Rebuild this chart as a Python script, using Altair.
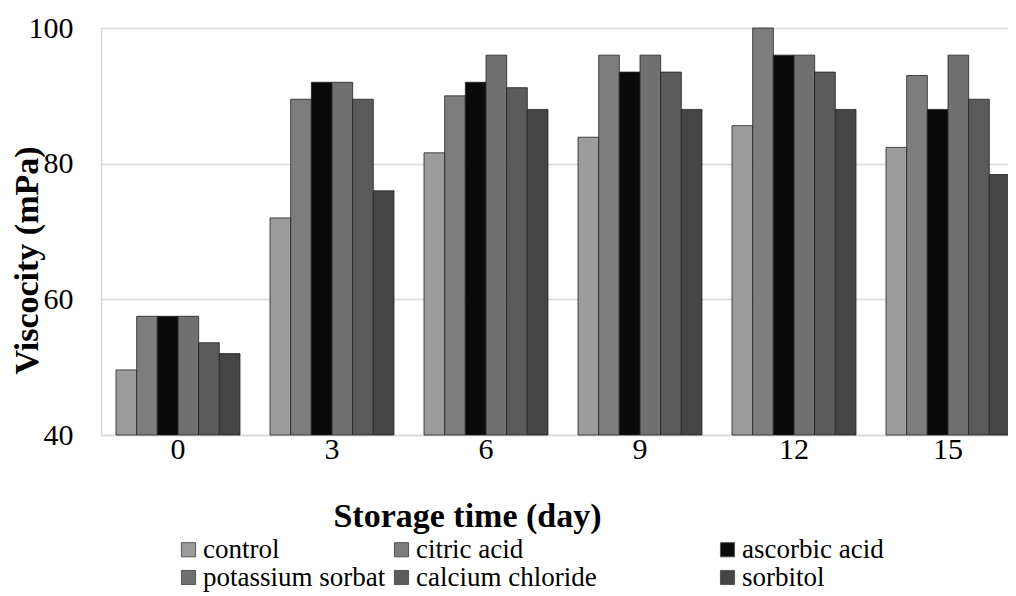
import altair as alt
import pandas as pd

days = ["0", "3", "6", "9", "12", "15"]
series = ["control", "citric acid", "ascorbic acid", "potassium sorbat", "calcium chloride", "sorbitol"]
control = [49.6, 72.0, 81.6, 83.9, 85.6, 82.4]
citric_acid = [57.5, 89.5, 90.0, 96.0, 100.0, 93.0]
ascorbic_acid = [57.5, 92.0, 92.0, 93.5, 96.0, 88.0]
potassium_sorbat = [57.5, 92.0, 96.0, 96.0, 96.0, 96.0]
calcium_chloride = [53.6, 89.5, 91.2, 93.5, 93.5, 89.5]
sorbitol = [52.0, 76.0, 88.0, 88.0, 88.0, 78.4]
y_ticks = [40, 60, 80, 100]

fills = ["#9c9c9c", "#7d7d7d", "#0a0a0a", "#707070", "#5a5a5a", "#454545"]

values = [control, citric_acid, ascorbic_acid, potassium_sorbat, calcium_chloride, sorbitol]
rows = []
for s, vals in zip(series, values):
    for d, v in zip(days, vals):
        rows.append({"day": d, "series": s, "viscosity": v})
df = pd.DataFrame(rows)

FONT = "Times New Roman, Liberation Serif, serif"
TICK = 30
TITLE = 34
LEG = 27
PAD = "\u00a0" * 17 + "\u200b"

bars = alt.Chart(df).mark_bar(stroke="#222222", strokeWidth=0.8).encode(
    x=alt.X(
        "day:N",
        sort=days,
        scale=alt.Scale(range=[0, 924], paddingInner=0.195, paddingOuter=0.0975),
        axis=alt.Axis(
            title="Storage time (day)",
            labelAngle=0,
            ticks=False,
            labelPadding=-1,
            labelFontSize=TICK,
            labelFont=FONT,
            labelColor="#000000",
            domainColor="#d9d9d9",
            domainWidth=1.5,
            titleFont=FONT,
            titleFontSize=TITLE,
            titleFontWeight="bold",
            titleColor="#000000",
            titleX=366,
            titleY=81,
            titleAlign="center",
            titleBaseline="middle",
        ),
    ),
    xOffset=alt.XOffset("series:N", sort=series, scale=alt.Scale(domain=series, paddingInner=0, paddingOuter=0)),
    y=alt.Y(
        "viscosity:Q",
        scale=alt.Scale(domain=[40, 100], zero=False, nice=False),
        axis=alt.Axis(
            title="Viscocity (mPa)",
            values=y_ticks,
            ticks=False,
            labelPadding=28,
            labelFontSize=TICK,
            labelFont=FONT,
            labelColor="#000000",
            domainColor="#d9d9d9",
            domainWidth=1.5,
            grid=True,
            gridColor="#d9d9d9",
            gridWidth=1.5,
            titleFont=FONT,
            titleFontSize=TITLE,
            titleFontWeight="bold",
            titleColor="#000000",
            titleX=-74,
            titleY=232,
            titleAngle=-90,
            titleAlign="center",
            titleBaseline="middle",
        ),
    ),
    y2=alt.datum(40),
    color=alt.Color(
        "series:N",
        sort=series,
        scale=alt.Scale(domain=series, range=fills),
        legend=alt.Legend(
            title=None,
            orient="none",
            direction="horizontal",
            legendX=74,
            legendY=508,
            columns=3,
            columnPadding=2,
            rowPadding=0,
            symbolType="square",
            symbolSize=200,
            symbolStrokeColor="#555555",
            symbolStrokeWidth=1,
            labelFont=FONT,
            labelFontSize=LEG,
            labelColor="#000000",
            labelOffset=1,
            labelLimit=700,
            labelExpr="datum.label == 'citric acid' || datum.label == 'calcium chloride' ? datum.label + '" + PAD + "' : datum.label",
        ),
    ),
)

chart = bars.properties(
    width=907,
    height=407,
    autosize=alt.AutoSizeParams(type="none"),
    padding={"left": 93, "top": 20, "right": 0, "bottom": 160},
).configure(font=FONT).configure_view(stroke=None)

chart.save("out.html", embed_options={"renderer": "svg", "actions": False})
